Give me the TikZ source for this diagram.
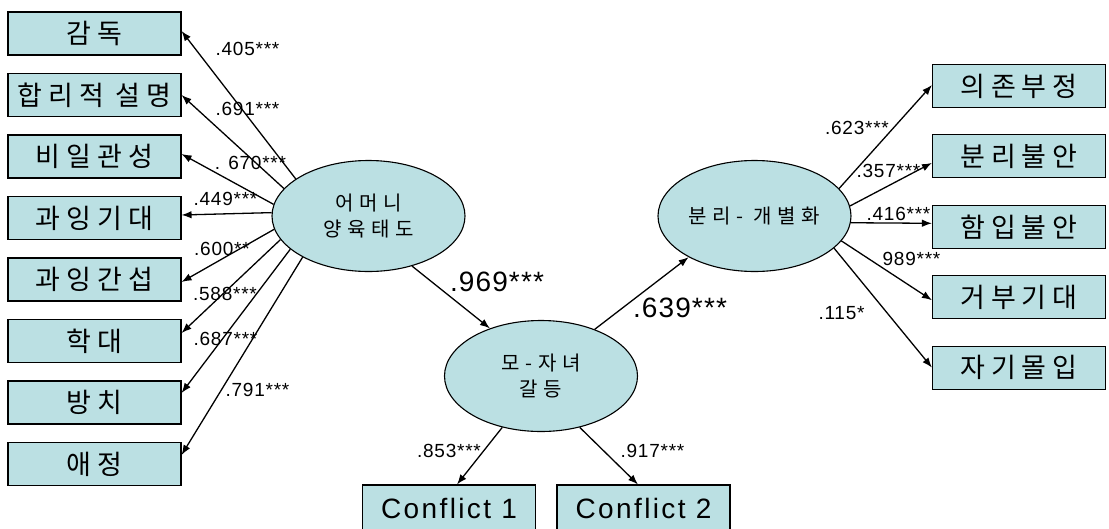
\documentclass[tikz,border=0pt]{standalone}
\usepackage{fontspec}
\usepackage{tikz}
\usetikzlibrary{arrows.meta,shapes.geometric}
\newfontfamily\kobox[LetterSpace=22]{Noto Sans CJK KR}
\newfontfamily\kooval[LetterSpace=28]{Noto Sans CJK KR}
\newfontfamily\numfont[LetterSpace=4]{Liberation Sans}
\newfontfamily\latbox[LetterSpace=8.5]{Liberation Sans}
\definecolor{boxfill}{RGB}{187,224,227}
\tikzset{
    obs box/.style={rectangle, draw=black, line width=1.1pt, fill=boxfill, minimum width=173pt, minimum height=43pt, inner sep=0pt, font=\kobox\fontsize{27}{30}\selectfont},
    conflict box/.style={obs box, minimum height=46pt, font=\latbox\fontsize{28}{32}\selectfont},
    latent/.style={ellipse, draw=black, line width=1.1pt, fill=boxfill, minimum width=193pt, minimum height=111pt, inner xsep=-12pt, inner ysep=0pt, align=center, font=\kooval\fontsize{20}{25.5}\selectfont},
    coef/.style={inner sep=0pt, font=\numfont\fontsize{19}{22}\selectfont},
    big coef/.style={coef, font=\numfont\fontsize{28}{32}\selectfont},
    loading/.style={->, line width=1.3pt}
}
\begin{document}
\begin{tikzpicture}[x=1pt, y=-1pt, >={Latex[length=10pt,width=7.5pt]}]
    \useasboundingbox (0,0) rectangle (1109,528);
    \foreach \i/\txt in {1/감독, 2/합리적 설명, 3/비일관성, 4/과잉기대, 5/과잉간섭, 6/학대, 7/방치, 8/애정}
        \node[obs box] (m\i) at (94.5, {33.5+61.5*(\i-1)}) {\txt};
    \foreach \i/\txt in {1/의존부정, 2/분리불안, 3/함입불안, 4/거부기대, 5/자기몰입}
        \node[obs box] (s\i) at (1019, {86+70.4*(\i-1)}) {\txt};
    \node[conflict box] (c1) at (449,508) {Conflict 1};
    \node[conflict box] (c2) at (643.5,508) {Conflict 2};

    \node[latent] (mom) at (368.5,216) {어머니\\양육태도};
    \node[latent] (conf) at (541,376) {모-자녀\\갈등};
    \node[latent] (sep) at (754.5,216) {분리- 개별화};

    \foreach \i/\a/\s in {1/153/2.5, 2/162/0, 3/173/2.5, 4/178/3, 5/188/-2.5, 6/195/8, 7/203/9.5, 8/212/9}
        \draw[loading] (mom.\a) -- ([yshift=\s pt]m\i.east);
    \foreach \i/\a/\s in {1/18/1, 2/6/-6.5, 3/356/3.5, 4/344/-3, 5/338/0}
        \draw[loading] (sep.\a) -- ([yshift=\s pt]s\i.west);
    \draw[loading] (mom.311) -- (conf.137);
    \draw[loading] (conf.41) -- (sep.212);
    \draw[loading] (conf.233) -- ([xshift=8pt]c1.north);
    \draw[loading] (conf.307) -- ([xshift=-5.5pt]c2.north);

    \foreach \x/\y/\t [count=\k] in {247.5/48.5/.405***, 247.5/108.5/.691***, 250.5/163/. 670***, 225.5/199/.449***, 222/249/.600**, 225/293.5/.588***, 225.5/339/.687***, 257.5/390/.791***}
        \node[coef] (lm\k) at (\x,\y) {\t};
    \foreach \x/\y/\t [count=\k] in {857/127.5/.623***, 888.5/170.5/.357***, 898.5/214/.416***, 911.5/259/989***, 841.5/313.5/.115*}
        \node[coef] (ls\k) at (\x,\y) {\t};
    \node[coef] (lc1) at (449,451) {.853***};
    \node[coef] (lc2) at (652.5,451) {.917***};
    \node[big coef] (lmc) at (497,282) {.969***};
    \node[big coef] (lcs) at (680,308) {.639***};
\end{tikzpicture}
\end{document}
